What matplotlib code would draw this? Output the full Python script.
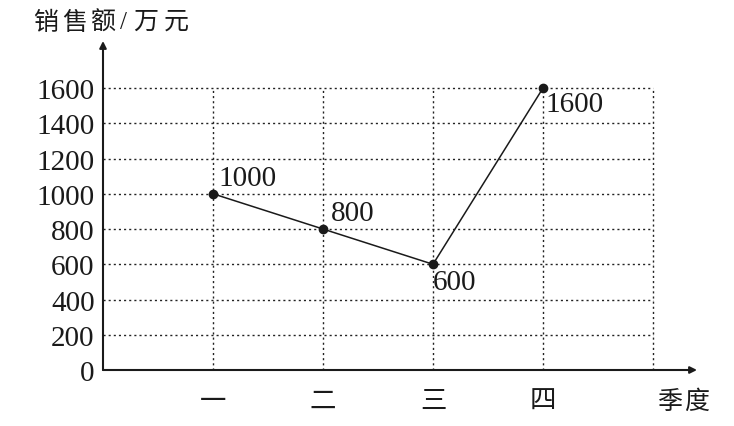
import matplotlib.pyplot as plt

quarters = ['一', '二', '三', '四']
sales = [1000, 800, 600, 1600]
yticks = [0, 200, 400, 600, 800, 1000, 1200, 1400, 1600]
ylabel_chars = ['销', '售', '额', '/', '万', '元']

plt.rcParams['font.family'] = ['Liberation Serif', 'Noto Sans CJK SC']

W, H = 734, 427
fig = plt.figure(figsize=(W / 100, H / 100), dpi=100)
# axes box from the y axis (x=103) to arrow tip (x=697), x axis (y=371) to arrow tip (y=42)
ax = fig.add_axes([103 / W, 1 - 371 / H, (697 - 103) / W, (371 - 42) / H])

xs = list(range(1, len(quarters) + 1))
ax.set_xlim(0, 5.4)
ax.set_ylim(0, 1867)

# dotted grid
for y in yticks[1:]:
    ax.plot([0, 5], [y, y], color='#222222', lw=1.0, ls=(0, (1.5, 2.2)), zorder=1)
for x in xs + [5]:
    ax.plot([x, x], [0, 1600], color='#222222', lw=1.0, ls=(0, (1.5, 2.2)), zorder=1)

ax.plot(xs, sales, color='#1a1a1a', lw=1.1, marker='o', markersize=6, zorder=3)

offsets = [(4, 2), (6, 2), (0, -22), (2, -21)]
for x, v, (dx, dy) in zip(xs, sales, offsets):
    ax.annotate(str(v), (x, v), xytext=(dx, dy), textcoords='offset points',
                fontsize=21, color='#1a1a1a', ha='left', va='bottom')

for s in ax.spines.values():
    s.set_visible(False)

# axes with arrows
ax.annotate('', xy=(1, 0), xytext=(0, 0), xycoords='axes fraction',
            arrowprops=dict(arrowstyle='-|>', color='#1a1a1a', lw=1.5,
                            mutation_scale=10, shrinkA=0, shrinkB=0))
ax.annotate('', xy=(0, 1), xytext=(0, 0), xycoords='axes fraction',
            arrowprops=dict(arrowstyle='-|>', color='#1a1a1a', lw=1.5,
                            mutation_scale=10, shrinkA=0, shrinkB=0))

ax.set_yticks(yticks)
ax.set_yticklabels([str(t) for t in yticks], fontsize=21, color='#1a1a1a')
ax.set_xticks(xs)
ax.set_xticklabels(quarters, fontsize=19, color='#1a1a1a')
ax.tick_params(length=0)
ax.tick_params(axis='y', pad=6)
ax.tick_params(axis='x', pad=15)

fig.text(670 / W, 1 - 402 / H, '季', fontsize=18, color='#1a1a1a',
         ha='center', va='center')
fig.text(697 / W, 1 - 402 / H, '度', fontsize=18, color='#1a1a1a',
         ha='center', va='center')

# y label, spaced out like the print
label_x = [46, 75, 103, 124, 146, 176]
for ch, lx in zip(ylabel_chars, label_x):
    fig.text(lx / W, 1 - 23 / H, ch, fontsize=18, color='#1a1a1a',
             ha='center', va='center')

fig.savefig('out.png', dpi=100)
